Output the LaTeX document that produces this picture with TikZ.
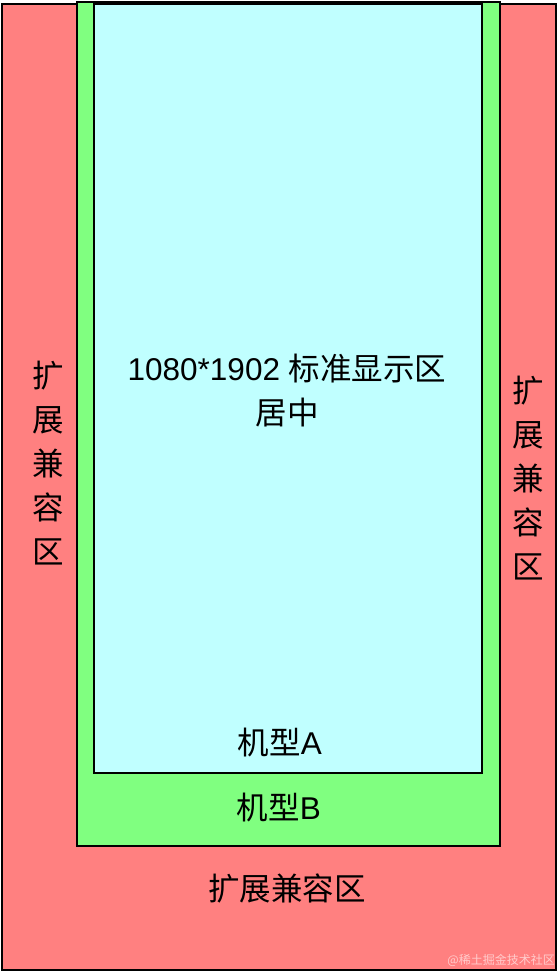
\documentclass[tikz,border=0pt]{standalone}
\usepackage{fontspec}
\setmainfont{Liberation Sans}
\newfontfamily\cjk{Noto Sans CJK SC}
\usetikzlibrary{positioning}

\definecolor{extred}{HTML}{FF8080}
\definecolor{modelgreen}{HTML}{80FF80}
\definecolor{stdcyan}{HTML}{C0FFFF}

\begin{document}
\begin{tikzpicture}[
    x=1pt, y=-1pt,
    zone/.style={draw=black, line width=2pt},
    zonetext/.style={font=\fontsize{31.5}{44}\selectfont, align=center, inner sep=0pt},
    wmark/.style={font=\fontsize{12}{14}\selectfont\cjk, text=white, text opacity=0.6, inner sep=0pt}
]
\useasboundingbox (0,0) rectangle (558,972);

% Zones
\draw[zone, fill=extred] (1.5,4) rectangle (556,970);
\draw[zone, fill=modelgreen] (77,2) rectangle (500,846);
\draw[zone, fill=stdcyan] (94,4) rectangle (482,773);

% Labels
\node[zonetext] (std) at (287,391) {1080*1902 {\cjk 标准显示区}\\{\cjk 居中}};
\node[zonetext] (ma) at (280,743) {{\cjk 机型}A};
\node[zonetext] (mb) at (279,808) {{\cjk 机型}B};
\node[zonetext] (extb) at (287,888) {\cjk 扩展兼容区};
\node[zonetext] (extl) at (48,463) {\cjk 扩\\\cjk 展\\\cjk 兼\\\cjk 容\\\cjk 区};
\node[zonetext] (extr) at (528,478) {\cjk 扩\\\cjk 展\\\cjk 兼\\\cjk 容\\\cjk 区};

\node[wmark, anchor=east] (wm) at (555,960) {@稀土掘金技术社区};
\end{tikzpicture}
\end{document}
